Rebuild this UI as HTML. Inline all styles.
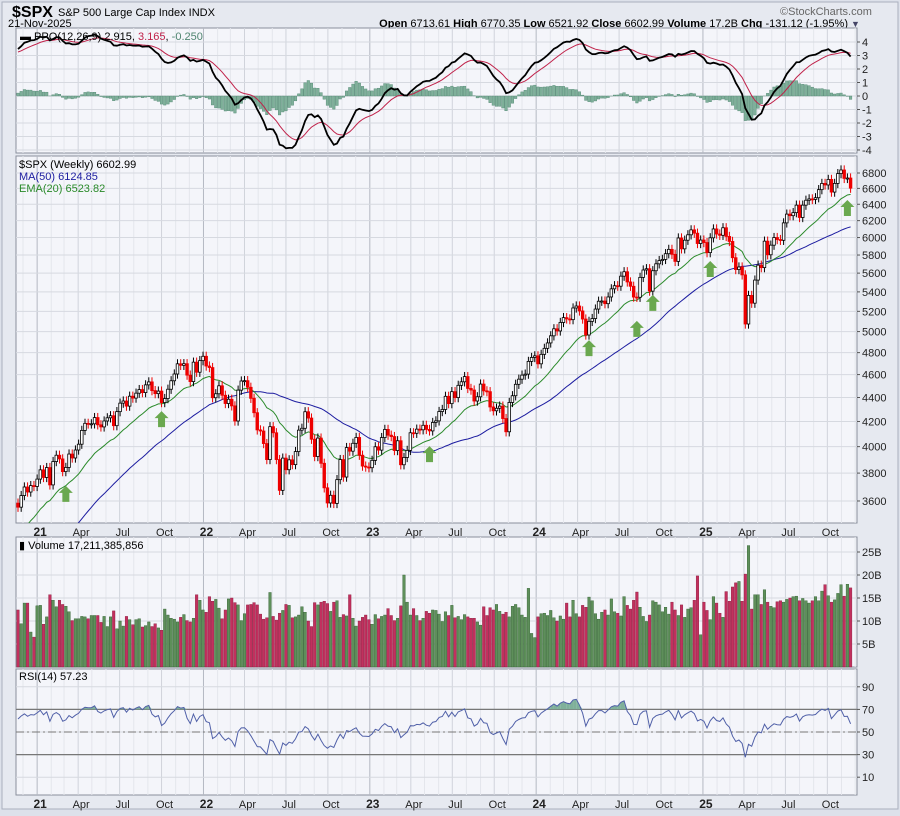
<!DOCTYPE html>
<html><head><meta charset="utf-8">
<style>
body{margin:0;background:#dde1ea;font-family:"Liberation Sans",sans-serif;}
svg text{font-family:"Liberation Sans",sans-serif;}
</style></head>
<body>
<svg id="chart" width="900" height="811" viewBox="0 0 900 811" xmlns="http://www.w3.org/2000/svg">
<defs>
<clipPath id="cpPrice"><rect x="16" y="156" width="841" height="367"/></clipPath>
<clipPath id="cpPpo"><rect x="16" y="28" width="841" height="125"/></clipPath>
</defs>
<rect x="0" y="0" width="900" height="811" fill="#dde1ea"/>
<rect x="2" y="2" width="896" height="807" fill="#e6e9f0" stroke="#a9afbd"/>
<text x="12" y="17" font-size="16" font-weight="bold" fill="#000">$SPX</text>
<text x="58" y="16" font-size="11" fill="#000">S&amp;P 500 Large Cap Index  INDX</text>
<text x="780" y="15" font-size="11" fill="#666">©StockCharts.com</text>
<text x="8" y="27" font-size="11" fill="#000">21-Nov-2025</text>
<text x="848" y="27" font-size="11" text-anchor="end" fill="#000"><tspan font-weight="bold">Open</tspan> 6713.61 <tspan font-weight="bold">High</tspan> 6770.35 <tspan font-weight="bold">Low</tspan> 6521.92 <tspan font-weight="bold">Close</tspan> 6602.99 <tspan font-weight="bold">Volume</tspan> 17.2B <tspan font-weight="bold">Chg</tspan> -131.12 (-1.95%)</text>
<text x="851" y="27" font-size="9" fill="#446">▼</text>
<g id="g"></g>
</svg>
<script>
// warmup closes (Nov 2019 - Nov 2020), used only for indicator calculation
const warmClose=[3093,3145,3135,3169,3221,3240,3235,3265,3330,3295,3225,3328,3327,3380,3337,2954,3130,2972,2746,2711,2305,2541,2489,2789,2874,2875,2837,2830,2864,2930,2863,2955,3044,3193,3041,3097,3009,3130,3185,3225,3216,3271,3351,3372,3397,3508,3426,3340,3319,3298,3477,3483,3465,3270,3509,3585];
// weekly closes from 20-Nov-2020 to 21-Nov-2025
const closes=[3557,3638,3699,3663,3709,3703,3756,
3824,3768,3841,3714,3886,3934,3906,3811,3842,3943,3913,3974,4019,4128,4185,4180,4181,4232,4173,4156,4204,4230,4247,4166,4281,4352,4370,4327,4411,4395,4437,4468,4442,4509,4535,4459,4433,4455,4357,4391,4471,4545,4605,4697,4683,4698,4595,4538,4712,4621,4726,4766,
4677,4663,4398,4432,4501,4419,4349,4385,4329,4204,4463,4543,4546,4488,4393,4272,4132,4123,4024,3901,4158,4109,3901,3675,3912,3825,3899,3863,3962,4130,4145,4280,4228,4058,3924,4067,3873,3693,3586,3640,3583,3752,3901,3771,3993,3965,4026,4072,3934,3852,3845,3840,
3895,3999,3973,4071,4136,4090,4079,3970,4046,3862,3917,3971,4109,4105,4138,4133,4169,4136,4124,4192,4205,4282,4299,4410,4348,4450,4399,4505,4536,4582,4478,4464,4370,4406,4516,4457,4450,4320,4288,4309,4327,4224,4117,4358,4415,4514,4559,4595,4604,4719,4755,4770,
4697,4784,4840,4891,4959,5027,5006,5089,5137,5124,5117,5234,5254,5204,5123,4967,5100,5128,5223,5303,5305,5278,5347,5432,5465,5460,5567,5615,5505,5459,5346,5344,5554,5634,5648,5408,5626,5702,5738,5751,5815,5864,5808,5729,5995,5870,5969,6032,6090,6051,5931,5971,
5942,5827,5997,6101,6041,6026,6115,6013,5955,5770,5639,5667,5581,5074,5363,5283,5525,5687,5660,5958,5803,5912,6000,5977,5968,6173,6279,6260,6297,6389,6238,6389,6450,6467,6460,6482,6584,6664,6644,6716,6553,6664,6792,6840,6729,6734,6603];
// weekly volume in billions
const volumes=[12.4,9.4,13.9,13.9,7.6,6.5,13.3,
13.4,9.3,10.9,15.7,14.5,13.1,14.5,13.6,13.2,12.0,10.1,10.5,10.5,11.0,10.9,10.5,11.2,11.2,11.2,9.7,11.0,8.8,10.9,12.2,8.3,10.0,8.9,11.0,10.3,9.2,10.3,10.5,8.7,9.0,9.8,8.8,9.4,8.5,8.0,12.6,11.3,10.6,10.4,9.8,10.8,11.4,10.1,9.8,10.6,15.7,14.5,12.4,
11.9,15.3,14.3,14.7,12.8,10.5,12.4,14.8,15.0,14.0,13.5,10.1,11.6,13.5,13.6,14.0,13.5,11.5,10.4,10.7,16.2,11.0,10.2,11.7,12.3,13.6,13.4,10.7,10.9,11.3,13.1,11.9,10.0,8.8,14.0,13.5,14.1,14.3,13.8,12.1,14.1,14.4,10.8,11.4,11.1,15.7,10.6,8.9,10.0,10.8,11.3,10.3,
9.3,11.4,10.5,11.0,11.3,12.7,11.2,10.1,10.6,13.3,20.0,14.1,11.3,12.7,11.2,10.1,10.6,12.1,11.7,12.4,12.3,11.5,9.9,12.0,11.2,13.4,10.7,11.0,10.3,11.4,10.9,10.6,10.6,9.8,9.1,13.1,11.2,12.9,12.4,13.6,12.1,11.5,11.9,10.9,13.2,13.6,12.9,11.3,10.8,17.1,7.3,6.4,
10.9,11.6,11.7,11.2,12.3,10.7,10.0,11.1,10.4,13.9,10.9,14.5,11.6,10.9,13.4,13.0,15.2,14.4,11.6,10.4,11.9,12.4,11.3,14.8,12.0,11.7,11.1,15.3,13.4,12.6,14.5,16.3,13.0,11.0,9.9,11.3,14.4,14.1,13.5,12.0,13.0,11.5,14.1,12.4,11.2,13.5,10.8,12.6,12.9,14.5,19.8,7.0,
14.1,12.3,10.3,15.3,13.9,11.7,10.8,16.4,14.3,17.4,18.3,18.6,14.3,20.2,26.4,12.6,15.7,15.7,13.6,16.8,14.1,13.2,12.9,14.2,14.4,14.1,14.7,15.0,15.3,15.4,14.4,14.9,14.4,13.9,14.4,15.3,14.4,16.5,17.9,15.5,14.1,14.6,16.0,17.9,15.4,18.0,17.2];
const priceTicks=[3600,3800,4000,4200,4400,4600,4800,5000,5200,5400,5600,5800,6000,6200,6400,6600,6800];
const ppoTicks=[-4,-3,-2,-1,0,1,2,3,4];
const volTicks=[5,10,15,20,25];
const rsiTicks=[10,30,50,70,90];
// green support arrows: [week index, price at tip]
const arrowIdx=[15,45,129,179,194,199,217,260];
const arrowPrice=[3729,4310,4027,4946,5134,5400,5766,6491];
</script>
<script>
const NS="http://www.w3.org/2000/svg";
const g=document.getElementById('g');
function el(t,a,p){const e=document.createElementNS(NS,t);for(const k in a)e.setAttribute(k,a[k]);(p||g).appendChild(e);return e;}
const L=16,R=857,X0=18,DX=3.19;
const xs=i=>X0+i*DX;
const P={ppo:[28,153],price:[156,523],vol:[537,667],rsi:[669,795]};
const yPpo=v=>96-v*13.5;
const yPrice=v=>173+(Math.log(6800)-Math.log(v))*515.7;
const yVol=v=>667-v*4.6;
const yRsi=v=>732-(v-50)*1.13;
const start=Date.UTC(2020,10,20);
const dateX=(y,m)=>xs((Date.UTC(y,m,1)-start)/(7*864e5));
const all=warmClose.concat(closes);const W=warmClose.length;
function ema(arr,n){const k=2/(n+1);let out=[],e=arr[0];arr.forEach((v,i)=>{e=i?v*k+e*(1-k):v;out.push(e);});return out;}
const e20=ema(all,20),e12=ema(all,12),e26=ema(all,26);
const ma50=all.map((v,i)=>{const s=Math.max(0,i-49);let t=0;for(let j=s;j<=i;j++)t+=all[j];return t/(i-s+1);});
const ppo=all.map((v,i)=>(e12[i]-e26[i])/e26[i]*100);
const sig=ema(ppo,9);
let rsi=[],ag=0,al=0;
all.forEach((v,i)=>{if(i==0){rsi.push(50);return;}const d=v-all[i-1];const gn=Math.max(d,0),ls=Math.max(-d,0);if(i<=14){ag+=gn/14;al+=ls/14;}else{ag=(ag*13+gn)/14;al=(al*13+ls)/14;}rsi.push(al==0?100:100-100/(1+ag/al));});
for(const key in P){const [t,b]=P[key];
const r=el('rect',{x:L,y:t,width:R-L,height:b-t,fill:'#f4f5fa',stroke:'#8a909c'});


}
for(const key in P){const [t,b]=P[key];
for(let y=2020;y<=2025;y++)for(let m=0;m<12;m++){const x=dateX(y,m);if(x<L+1||x>R-1)continue;
el('line',{x1:x,x2:x,y1:t,y2:b,stroke:m==0?'#b4b8c2':(m%3==0?'#d0d3db':'#e4e6ec'),'stroke-width':1});}}
function hgrid(key,ticks,f,lab){ticks.forEach(v=>{const y=f(v);el('line',{x1:L,x2:R,y1:y,y2:y,stroke:'#d6d9e0'});
const tx=el('text',{x:R+5,y:y+4,'font-size':11,fill:'#222'});tx.textContent=lab(v);


el('line',{x1:R,x2:R+3,y1:y,y2:y,stroke:'#555'});});}
hgrid('ppo',ppoTicks,yPpo,v=>v);
hgrid('price',priceTicks,yPrice,v=>v);
hgrid('vol',volTicks,yVol,v=>v+'B');
hgrid('rsi',rsiTicks,yRsi,v=>v);
function dateAxis(y0){for(let y=2021;y<=2025;y++)[0,3,6,9].forEach(m=>{const x=dateX(y,m);if(x>R)return;
const t=el('text',{x:x+3,y:y0,'font-size':m==0?12:11,'font-weight':m==0?'bold':'normal','text-anchor':'middle',fill:'#222'});
t.textContent=m==0?String(y).slice(2):['Jan','Feb','Mar','Apr','May','Jun','Jul','Aug','Sep','Oct'][m];

});}
dateAxis(536);dateAxis(808);
const ppoG=el('g',{'clip-path':'url(#cpPpo)'});


closes.forEach((c,i)=>{const h=ppo[W+i]-sig[W+i];const y0=yPpo(0),y1=yPpo(h);
el('rect',{x:xs(i)-1.3,y:Math.min(y0,y1),width:2.6,height:Math.abs(y1-y0),fill:'#7fb09a',stroke:'#4f8570','stroke-width':0.4},ppoG);});
function line(arr,f,col,w,name,parent){let d='';closes.forEach((c,i)=>{d+=(i?'L':'M')+xs(i).toFixed(1)+','+f(arr[W+i]).toFixed(1);});
const p=el('path',{d,fill:'none',stroke:col,'stroke-width':w},parent);

return p;}
line(sig,yPpo,'#c0224a',1,'ppo-signal-line',ppoG);
line(ppo,yPpo,'#000',1.8,'ppo-line',ppoG);
const pg=el('g',{'clip-path':'url(#cpPrice)'});


line(ma50,yPrice,'#1c1ca0',1,'ma50-line',pg);
line(e20,yPrice,'#2a8a2a',1,'ema20-line',pg);
const cg=el('g',{},pg);


closes.forEach((c,i)=>{const o=i?closes[i-1]:warmClose[W-1];const up=c>=o;const col=up?'#000':'#e00';
const hi=Math.max(o,c)*1.009,lo=Math.min(o,c)*0.991;const x=xs(i);
el('line',{x1:x,x2:x,y1:yPrice(hi),y2:yPrice(lo),stroke:col,'stroke-width':1},cg);
const yt=yPrice(Math.max(o,c)),yb=yPrice(Math.min(o,c));
el('rect',{x:x-1.3,y:yt,width:2.6,height:Math.max(1,yb-yt),fill:up?'#fff':'#e00',stroke:col,'stroke-width':0.8},cg);});
arrowIdx.forEach((ix,k)=>{const x=xs(ix),y=yPrice(arrowPrice[k])+3;
const a=el('path',{d:`M${x},${y} L${x+7},${y+7} L${x+3.5},${y+7} L${x+3.5},${y+16} L${x-3.5},${y+16} L${x-3.5},${y+7} L${x-7},${y+7} Z`,fill:'#6aa84f'});

});
const vg=el('g',{});


volumes.forEach((v,i)=>{const o=i?closes[i-1]:warmClose[W-1];const up=closes[i]>=o;
el('rect',{x:xs(i)-1.3,y:yVol(v),width:2.6,height:667-yVol(v),fill:up?'#5e8f5a':'#c2305e',stroke:up?'#2f5f2f':'#8a1a3c','stroke-width':0.4},vg);});
[30,70].forEach(v=>el('line',{x1:L,x2:R,y1:yRsi(v),y2:yRsi(v),stroke:'#777','stroke-width':1.2}));
el('line',{x1:L,x2:R,y1:yRsi(50),y2:yRsi(50),stroke:'#777','stroke-dasharray':'8,3,2,3'});
closes.forEach((c,i)=>{if(i==0)return;const a=rsi[W+i-1],b=rsi[W+i];if(a<=70&&b<=70)return;
el('path',{d:`M${xs(i-1)},${yRsi(Math.max(a,70))} L${xs(i)},${yRsi(Math.max(b,70))} L${xs(i)},${yRsi(70)} L${xs(i-1)},${yRsi(70)}Z`,fill:'#7fb09a'});});
line(rsi,yRsi,'#5060a8',1,'rsi-line');
function leg(x,y,txt,col,name){const t=el('text',{x,y,'font-size':11,fill:col});t.innerHTML=txt;

}
leg(20,40,'▬ PPO(12,26,9) 2.915, <tspan fill="#c0224a">3.165</tspan>, <tspan fill="#4f8570">-0.250</tspan>','#000','ppo-legend');
leg(19,168,'$SPX (Weekly) 6602.99','#000','price-legend');
leg(19,180,'MA(50) 6124.85','#1c1ca0','ma50-legend');
leg(19,192,'EMA(20) 6523.82','#2a8a2a','ema20-legend');
leg(19,549,'▮ Volume 17,211,385,856','#000','volume-legend');
leg(19,680,'RSI(14) 57.23','#000','rsi-legend');
</script>
</body></html>
